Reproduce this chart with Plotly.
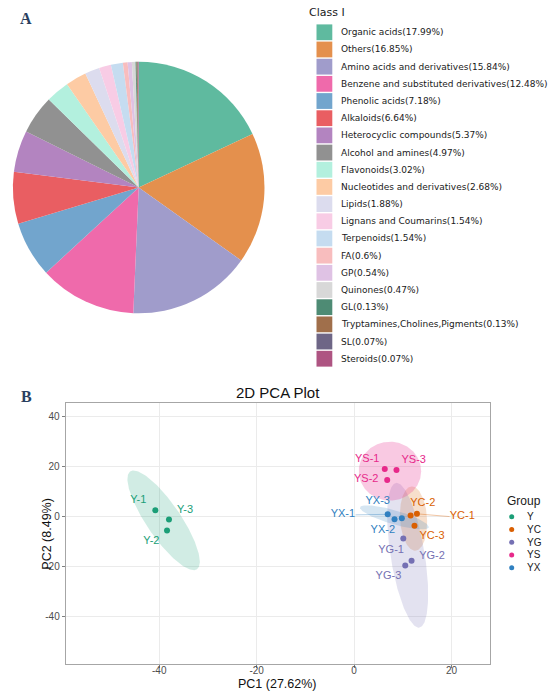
import numpy as np
import plotly.graph_objects as go

W, H = 550, 695

# ---- panel A: Class I composition ----
classes = ["Organic acids", "Others", "Amino acids and derivatives",
           "Benzene and substituted derivatives", "Phenolic acids", "Alkaloids",
           "Heterocyclic compounds", "Alcohol and amines", "Flavonoids",
           "Nucleotides and derivatives", "Lipids", "Lignans and Coumarins",
           "Terpenoids", "FA", "GP", "Quinones", "GL",
           "Tryptamines,Cholines,Pigments", "SL", "Steroids"]
percent = [17.99, 16.85, 15.84, 12.48, 7.18, 6.64, 5.37, 4.97, 3.02, 2.68,
           1.88, 1.54, 1.54, 0.6, 0.54, 0.47, 0.13, 0.13, 0.07, 0.07]
class_colors = ["#5FBA9F", "#E4904D", "#A09CCB", "#EF6AAB", "#72A5CD", "#E95E62",
                "#B384C0", "#919191", "#B3F0DE", "#FDCBA4", "#DCDCEE", "#F8CCE5",
                "#C5DCF0", "#F8BDBE", "#DFC2E4", "#D8D8D8", "#4E8B74", "#A06F4B",
                "#6E6686", "#AE5482"]

# ---- panel B: PCA scores ----
groups = ["Y", "YC", "YG", "YS", "YX"]
group_colors = ["#1B9E77", "#D95F02", "#7570B3", "#E7298A", "#3080C0"]
group_fill = ["rgba(27,158,119,0.2)", "rgba(217,95,2,0.2)", "rgba(117,112,179,0.2)",
              "rgba(231,41,138,0.25)", "rgba(48,128,192,0.2)"]

samples = ["Y-1", "Y-2", "Y-3", "YC-1", "YC-2", "YC-3", "YG-1", "YG-2", "YG-3",
           "YS-1", "YS-2", "YS-3", "YX-1", "YX-2", "YX-3"]
sample_group = ["Y"] * 3 + ["YC"] * 3 + ["YG"] * 3 + ["YS"] * 3 + ["YX"] * 3
pc1 = [-40.8, -38.4, -38.0, 12.9, 11.6, 12.4, 10.1, 11.8, 10.5, 6.3, 6.8, 8.7, 6.9, 8.3, 9.8]
pc2 = [2.5, -5.6, -1.2, 1.1, 0.4, -3.7, -8.8, -17.7, -19.6, 19.1, 14.7, 18.7, 0.9, -1.1, -0.7]
label_x = [-44.3, -41.6, -34.7, 22.2, 14.1, 16.0, 7.6, 16.0, 7.05, 2.7, 2.5, 12.25, -2.3, 5.9, 4.85]
label_y = [6.7, -9.9, 2.7, 0.0, 5.3, -8.0, -13.6, -16.0, -24.0, 22.9, 14.8, 22.7, 1.1, -5.6, 6.1]

# repel segments (label end -> point)
seg_sample = ["YX-1", "YC-1"]
seg_x0 = [0.3, 19.6]
seg_y0 = [0.7, 0.0]

# 95% ellipses: centre and two half-axis vectors
ell_cx = [-39.1, 12.2, 11.0, 7.36, 8.27]
ell_cy = [-1.5, -0.8, -15.5, 18.2, -0.3]
ell_ax = [6.85, 0.4, 2.4, 6.41, 7.04]
ell_ay = [-19.6, -12.9, -29.0, 0.0, -4.0]
ell_bx = [2.88, 2.77, 3.45, 0.0, -0.40]
ell_by = [3.88, 0.32, 1.08, 11.8, -2.69]

x_ticks = [-40, -20, 0, 20]
y_ticks = [-40, -20, 0, 20, 40]
pc1_label, pc2_label = "PC1 (27.62%)", "PC2 (8.49%)"


def px(x):
    return x / W


def py(y):
    return 1 - y / H


fig = go.Figure()

fig.add_trace(go.Pie(
    labels=classes, values=percent, sort=False, direction="clockwise", rotation=0,
    marker=dict(colors=class_colors, line=dict(width=0)),
    textinfo="none", hoverinfo="label+percent", showlegend=False,
    domain=dict(x=[px(10.7), px(266.7)], y=[py(313.3), py(61.7)]),
))

t = np.linspace(0, 2 * np.pi, 200)
for i, g in enumerate(groups):
    ex = ell_cx[i] + ell_ax[i] * np.cos(t) + ell_bx[i] * np.sin(t)
    ey = ell_cy[i] + ell_ay[i] * np.cos(t) + ell_by[i] * np.sin(t)
    fig.add_trace(go.Scatter(x=ex, y=ey, mode="lines", fill="toself",
                             fillcolor=group_fill[i], line=dict(width=0),
                             hoverinfo="skip", showlegend=False))

for k, s in enumerate(seg_sample):
    j = samples.index(s)
    gi = groups.index(sample_group[j])
    fig.add_trace(go.Scatter(x=[seg_x0[k], pc1[j]], y=[seg_y0[k], pc2[j]], mode="lines",
                             line=dict(color=group_colors[gi], width=0.6),
                             opacity=0.6, hoverinfo="skip", showlegend=False))

for i, g in enumerate(groups):
    idx = [j for j, sg in enumerate(sample_group) if sg == g]
    fig.add_trace(go.Scatter(
        x=[pc1[j] for j in idx], y=[pc2[j] for j in idx], mode="markers",
        marker=dict(color=group_colors[i], size=6), name=g,
        text=[samples[j] for j in idx], showlegend=False))
    fig.add_trace(go.Scatter(
        x=[label_x[j] for j in idx], y=[label_y[j] for j in idx], mode="text",
        text=[samples[j] for j in idx],
        textfont=dict(family="Liberation Sans", size=11, color=group_colors[i]),
        hoverinfo="skip", showlegend=False))

ax_style = dict(showline=True, mirror=True, linecolor="#A6A6A6", linewidth=1,
                showgrid=True, gridcolor="#EBEBEB", gridwidth=1, zeroline=False,
                ticks="outside", ticklen=3, tickcolor="#7F7F7F",
                tickfont=dict(family="Liberation Sans", size=10, color="#4D4D4D"))

fig.update_layout(
    width=W, height=H, margin=dict(l=0, r=0, t=0, b=0),
    paper_bgcolor="white", plot_bgcolor="white", showlegend=False,
    xaxis=dict(domain=[px(65.7), px(490)], range=[-59.2, 27.9],
               tickvals=x_ticks, ticktext=[str(v) for v in x_ticks],
               ticklabelstandoff=-6, **ax_style),
    yaxis=dict(domain=[py(664.3), py(403.3)], range=[-59.2, 45.4],
               tickvals=y_ticks, ticktext=[str(v) for v in y_ticks], **ax_style),
)

annotations = [
    dict(text="<b>A</b>", x=px(18), y=py(18), font=dict(family="Liberation Serif", size=16)),
    dict(text="<b>B</b>", x=px(18.7), y=py(396), font=dict(family="Liberation Serif", size=16)),
    dict(text="2D PCA Plot", x=px(278), y=py(392),
         font=dict(family="Liberation Sans", size=15, color="#111111")),
    dict(text=pc1_label, x=px(277), y=py(684),
         font=dict(family="Liberation Sans", size=12.5, color="#111111")),
    dict(text=pc2_label, x=px(37.7), y=py(534), textangle=-90,
         font=dict(family="Liberation Sans", size=12.5, color="#111111")),
    dict(text="Class I", x=px(307), y=py(13), xanchor="left",
         font=dict(family="DejaVu Sans", size=11, color="#1A1A1A")),
    dict(text="Group", x=px(505), y=py(501), xanchor="left",
         font=dict(family="Liberation Sans", size=12, color="#1A1A1A")),
]
shapes = []

# Class I legend
for i, (c, v) in enumerate(zip(classes, percent)):
    yc = 32.3 + i * 17.18
    shapes.append(dict(type="rect", xref="paper", yref="paper",
                       x0=px(316.5), x1=px(332.3), y0=py(yc + 7.9), y1=py(yc - 7.9),
                       fillcolor=class_colors[i], line=dict(width=0)))
    annotations.append(dict(text=f"{c}({v:g}%)", x=px(339), y=py(yc), xanchor="left",
                            font=dict(family="DejaVu Sans", size=9, color="#1A1A1A")))

# Group legend
for i, g in enumerate(groups):
    yc = 516.7 + i * 12.75
    shapes.append(dict(type="circle", xref="paper", yref="paper",
                       x0=px(509.2), x1=px(514.2), y0=py(yc + 2.5), y1=py(yc - 2.5),
                       fillcolor=group_colors[i], line=dict(width=0)))
    annotations.append(dict(text=g, x=px(525), y=py(yc), xanchor="left",
                            font=dict(family="Liberation Sans", size=10, color="#1A1A1A")))

for a in annotations:
    a.setdefault("xref", "paper")
    a.setdefault("yref", "paper")
    a.setdefault("showarrow", False)
    a.setdefault("yanchor", "middle")

fig.update_layout(annotations=annotations, shapes=shapes)

fig.write_html("out.html", config={"displayModeBar": False},
               post_script="document.body.style.margin='0';document.body.style.overflow='hidden';")
